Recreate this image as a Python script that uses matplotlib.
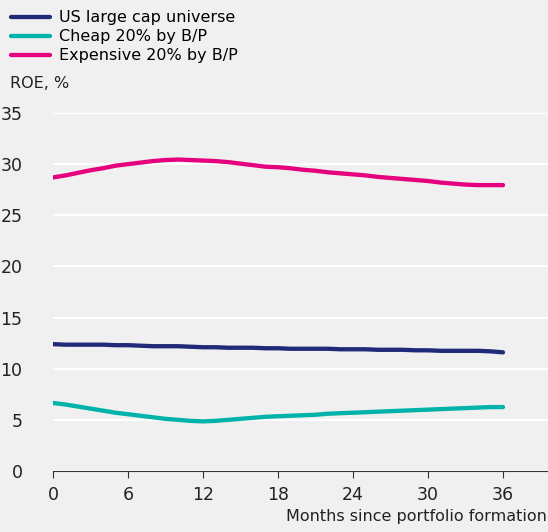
import matplotlib
matplotlib.use("Agg")
import matplotlib.pyplot as plt
import numpy as np

months = list(range(37))

us_large_cap = [12.4, 12.35, 12.35, 12.35, 12.35, 12.3, 12.3, 12.25, 12.2, 12.2, 12.2, 12.15, 12.1,
                12.1, 12.05, 12.05, 12.05, 12.0, 12.0, 11.95, 11.95, 11.95, 11.95, 11.9, 11.9, 11.9,
                11.85, 11.85, 11.85, 11.8, 11.8, 11.75, 11.75, 11.75, 11.75, 11.7, 11.6]
cheap = [6.65, 6.5, 6.3, 6.1, 5.9, 5.7, 5.55, 5.4, 5.25, 5.1, 5.0, 4.9, 4.85,
         4.9, 5.0, 5.1, 5.2, 5.3, 5.35, 5.4, 5.45, 5.5, 5.6, 5.65, 5.7, 5.75,
         5.8, 5.85, 5.9, 5.95, 6.0, 6.05, 6.1, 6.15, 6.2, 6.25, 6.25]
expensive = [28.7, 28.9, 29.15, 29.4, 29.6, 29.85, 30.0, 30.15, 30.3, 30.4, 30.45, 30.4, 30.35,
             30.3, 30.2, 30.05, 29.9, 29.75, 29.7, 29.6, 29.45, 29.35, 29.2, 29.1, 29.0, 28.9,
             28.75, 28.65, 28.55, 28.45, 28.35, 28.2, 28.1, 28.0, 27.95, 27.95, 27.95]

labels = ["US large cap universe", "Cheap 20% by B/P", "Expensive 20% by B/P"]
colors = ["#1f2a78", "#00b3aa", "#e6007e"]

bg = "#f0f0f0"
fig = plt.figure(figsize=(5.48, 5.32), dpi=100, facecolor=bg)
ax = fig.add_axes([53 / 548, 1 - 471 / 532, 1 - 53 / 548, (471 - 113) / 532], facecolor=bg)

for series, lab, col in zip([us_large_cap, cheap, expensive], labels, colors):
    ax.plot(months, series, color=col, lw=3.1, label=lab, solid_capstyle="round")

ax.set_xlim(0, 39.6)
ax.set_ylim(0, 35)
ax.set_xticks(range(0, 37, 6))
ax.set_yticks(range(0, 36, 5))
ax.yaxis.grid(True, color="white", lw=1.5)
ax.set_axisbelow(True)
for s in ["top", "right", "left"]:
    ax.spines[s].set_visible(False)
ax.spines["bottom"].set_color("#333333")
ax.tick_params(axis="y", length=0, pad=22, labelsize=12.5, colors="#222222")
ax.tick_params(axis="x", length=5, color="#333333", labelsize=12.5, colors="#222222", pad=6)

fig.text(0.998, 8 / 532, "Months since portfolio formation", ha="right", va="bottom",
         fontsize=11.5, color="#222222")
fig.text(10 / 548, 1 - 83 / 532, "ROE, %", ha="left", va="center", fontsize=11.5, color="#222222")

fig.legend(loc="upper left", bbox_to_anchor=(0.0, 1.002), frameon=False, fontsize=11.5,
           handlelength=2.4, labelspacing=0.25, handletextpad=0.6, borderaxespad=0.3)

fig.savefig("out.png", dpi=100, facecolor=bg)
